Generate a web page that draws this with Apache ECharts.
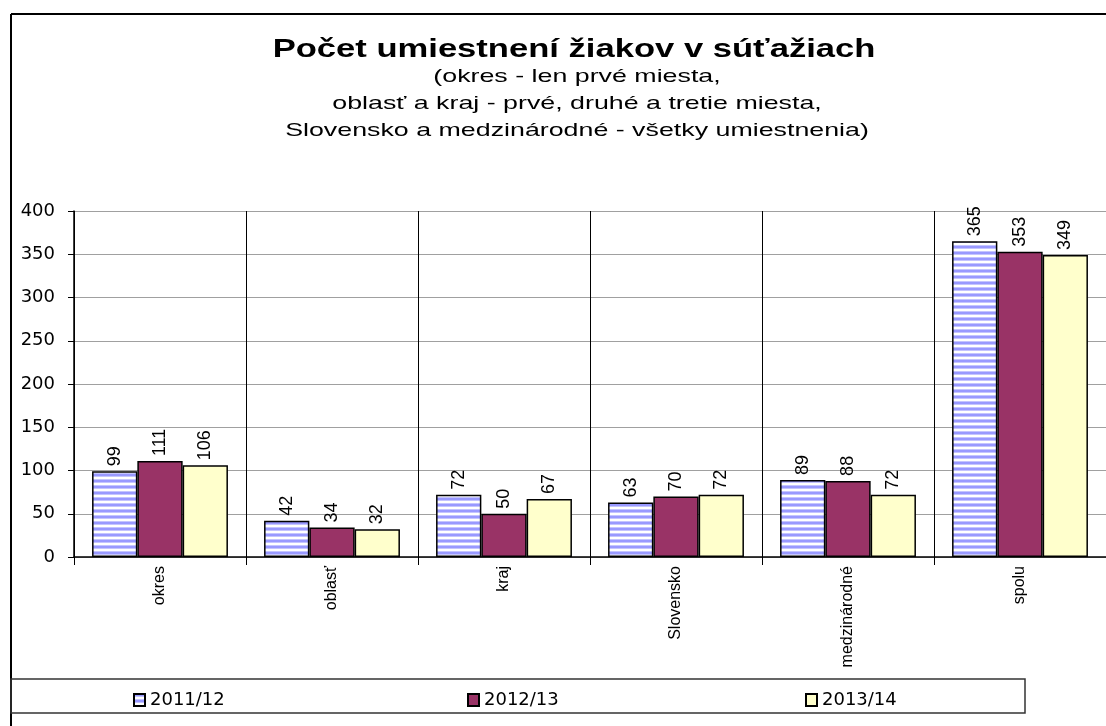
<!DOCTYPE html>
<html lang="sk">
<head>
<meta charset="UTF-8">
<title>Počet umiestnení žiakov v súťažiach</title>
<script src="https://cdn.jsdelivr.net/npm/echarts@6/dist/echarts.min.js"></script>
<style>
html, body { margin: 0; padding: 0; background: #fff; }
#chart { width: 1106px; height: 726px; }
</style>
</head>
<body>
<div id="chart"></div>
<script>
const categories = ['okres', 'oblasť', 'kraj', 'Slovensko', 'medzinárodné', 'spolu'];
const seriesNames = ['2011/12', '2012/13', '2013/14'];
const values2011 = [99, 42, 72, 63, 89, 365];
const values2012 = [111, 34, 50, 70, 88, 353];
const values2013 = [106, 32, 67, 72, 72, 349];
const yTicks = { min: 0, max: 400, interval: 50 };

const titleText = 'Počet umiestnení žiakov v súťažiach';
const subLines = [
  '(okres - len prvé miesta,',
  'oblasť a kraj - prvé, druhé a tretie miesta,',
  'Slovensko a medzinárodné - všetky umiestnenia)'
];

// striped fill for the first series
function stripes() {
  const c = document.createElement('canvas');
  c.width = 6; c.height = 6;
  const ctx = c.getContext('2d');
  const rows = ['#9999ff', '#9999ff', '#c4c4ff', '#ffffff', '#ffffff', '#c4c4ff'];
  rows.forEach((col, i) => { ctx.fillStyle = col; ctx.fillRect(0, i, 6, 1); });
  return c;
}

const font = 'Arial, "Liberation Sans", sans-serif';
const wide = '"DejaVu Sans", sans-serif';
const fills = [{ image: stripes(), repeat: 'repeat' }, '#993366', '#ffffcc'];
const data = [values2011, values2012, values2013];

// the source picture is stretched sideways, so the heading texts are widened
const heading = [
  { type: 'text', x: 574, y: 50, scaleX: 1.33,
    style: { text: titleText, font: 'bold 26px ' + font, fill: '#000', align: 'center', verticalAlign: 'middle' } }
].concat(subLines.map((t, i) => ({
  type: 'text', x: 577, y: 77 + i * 27, scaleX: 1.41,
  style: { text: t, font: '19px ' + font, fill: '#000', align: 'center', verticalAlign: 'middle' }
})));

const chart = echarts.init(document.getElementById('chart'));
chart.setOption({
  animation: false,
  textStyle: { fontFamily: font, color: '#000' },
  graphic: [
    { type: 'line', shape: { x1: 11, y1: 14, x2: 1106, y2: 14 }, style: { stroke: '#000', lineWidth: 2 } },
    { type: 'line', shape: { x1: 11, y1: 14, x2: 11, y2: 726 }, style: { stroke: '#000', lineWidth: 2 } },
    { type: 'rect', shape: { x: 11, y: 679, width: 1014, height: 34 }, style: { fill: 'none', stroke: '#333', lineWidth: 1.5 } }
  ].concat(heading),
  legend: seriesNames.map((n, i) => ({
    data: [n],
    left: [128, 462, 800][i],
    top: 686,
    icon: 'rect',
    itemWidth: 11,
    itemHeight: 12,
    itemGap: 0,
    textStyle: { fontSize: 18, color: '#000', fontFamily: wide }
  })),
  grid: { left: 74, right: -4, top: 211, bottom: 169 },
  xAxis: {
    type: 'category',
    data: categories,
    axisLine: { lineStyle: { color: '#000', width: 1.5 } },
    axisTick: { show: true, length: 8, lineStyle: { color: '#000' } },
    splitLine: { show: true, lineStyle: { color: '#000', width: 1 } },
    axisLabel: { rotate: 90, fontSize: 16, color: '#000', margin: 9, fontFamily: font }
  },
  yAxis: {
    type: 'value',
    min: yTicks.min,
    max: yTicks.max,
    interval: yTicks.interval,
    axisLine: { show: true, lineStyle: { color: '#000', width: 1.5 } },
    axisTick: { show: true, length: 6, lineStyle: { color: '#000' } },
    splitLine: { show: true, lineStyle: { color: '#a0a0a0', width: 1 } },
    axisLabel: { fontSize: 18, color: '#000', margin: 19, fontFamily: wide }
  },
  series: seriesNames.map((n, i) => ({
    name: n,
    type: 'bar',
    data: data[i],
    barGap: '0%',
    barCategoryGap: '21%',
    itemStyle: { color: fills[i], borderColor: '#000', borderWidth: 1.5 },
    label: {
      show: true,
      position: 'top',
      rotate: 90,
      align: 'left',
      verticalAlign: 'middle',
      distance: 5,
      fontSize: 18,
      color: '#000',
      fontFamily: font
    }
  }))
});
</script>
</body>
</html>
